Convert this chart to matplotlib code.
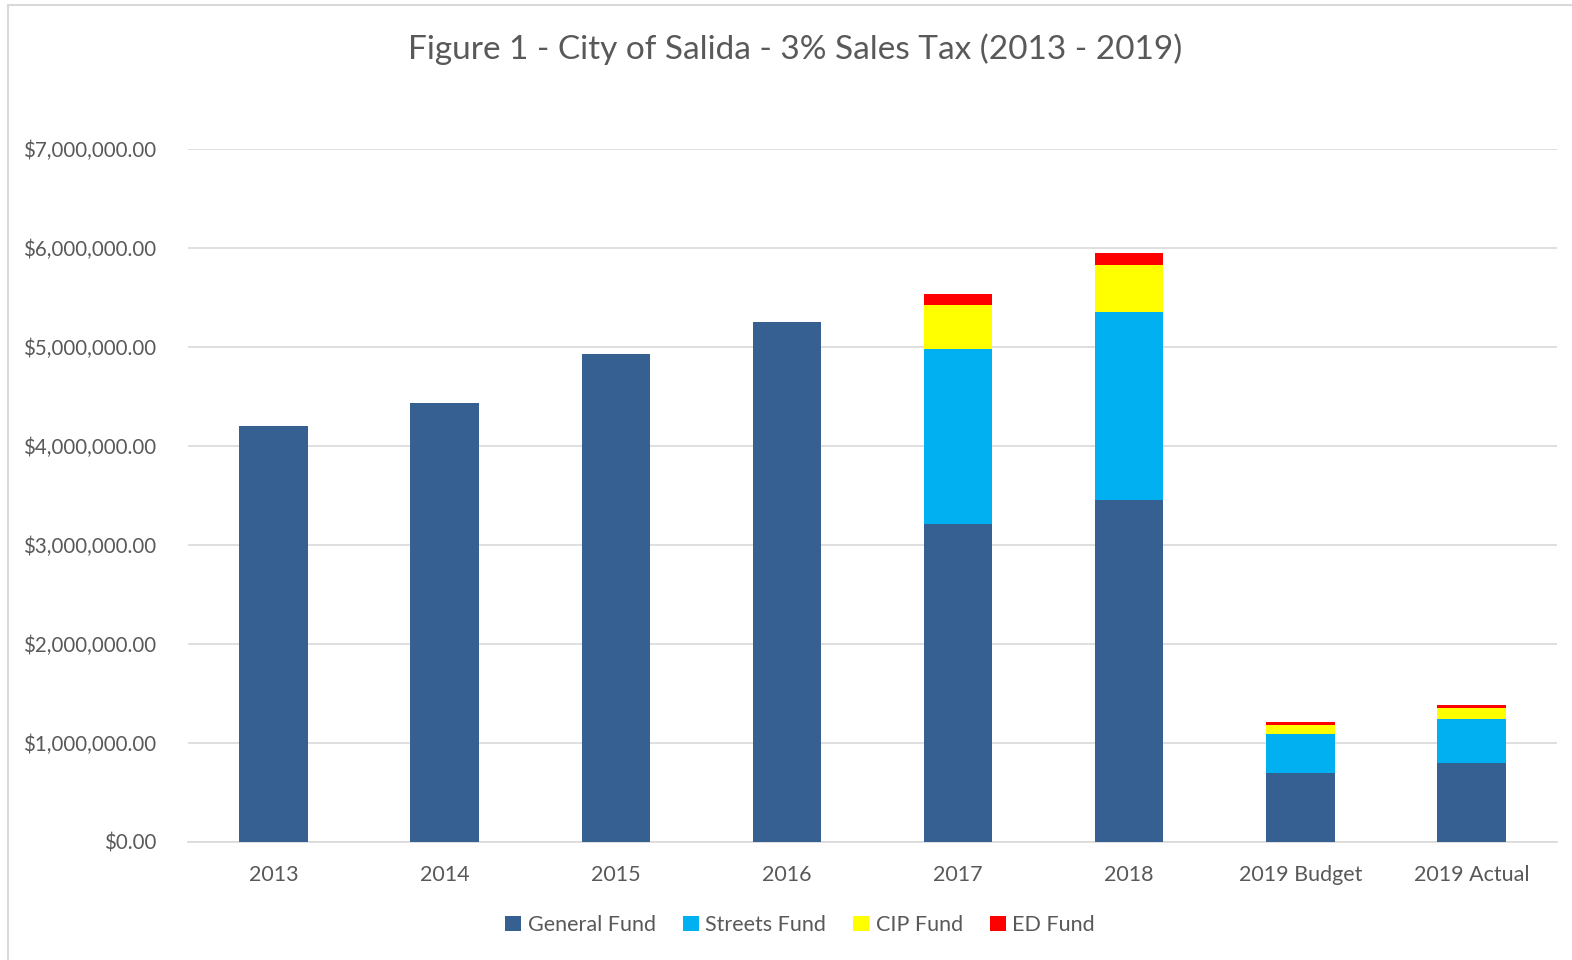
import numpy as np
import matplotlib.pyplot as plt
from matplotlib.patches import Rectangle
from matplotlib.ticker import FuncFormatter

plt.rcParams['font.family'] = ['Lato', 'DejaVu Sans']

categories = ['2013', '2014', '2015', '2016', '2017', '2018', '2019 Budget', '2019 Actual']
general_fund = [4202000, 4437000, 4926000, 5253000, 3209000, 3452000, 700000, 801000]
streets_fund = [0, 0, 0, 0, 1771000, 1899000, 388000, 441000]
cip_fund = [0, 0, 0, 0, 441000, 475000, 97000, 108000]
ed_fund = [0, 0, 0, 0, 117000, 121000, 27000, 34000]

series = [
    ('General Fund', general_fund, '#366092'),
    ('Streets Fund', streets_fund, '#00B0F0'),
    ('CIP Fund', cip_fund, '#FFFF00'),
    ('ED Fund', ed_fund, '#FF0000'),
]

txt = '#595959'

fig = plt.figure(figsize=(15.72, 9.6), dpi=100)
# light chart border
fig.patches.append(Rectangle((8 / 1572, -0.01), 1.02, 1 - 5 / 960 + 0.01,
                             transform=fig.transFigure, fill=False,
                             edgecolor='#D9D9D9', lw=1.5))

ax = fig.add_axes([188 / 1572, 1 - 842 / 960, (1557 - 188) / 1572, (842 - 149) / 960])

x = np.arange(len(categories))
bottom = np.zeros(len(categories))
for name, vals, col in series:
    vals = np.array(vals, dtype=float)
    ax.bar(x, vals, 0.4, bottom=bottom, color=col, label=name, zorder=3)
    bottom += vals

ax.set_xlim(-0.5, len(categories) - 0.5)
ax.set_ylim(0, 7000000)
ax.set_yticks(np.arange(0, 7000001, 1000000))
ax.yaxis.set_major_formatter(FuncFormatter(lambda v, p: '${:,.2f}'.format(v)))
ax.set_xticks(x)
ax.set_xticklabels(categories)

ax.grid(axis='y', color='#D9D9D9', lw=1.2, zorder=0)
for s in ['top', 'right', 'left']:
    ax.spines[s].set_visible(False)
ax.spines['bottom'].set_color('#D9D9D9')
ax.spines['bottom'].set_linewidth(1.2)
ax.tick_params(axis='both', length=0, colors=txt, labelsize=15.5)
ax.tick_params(axis='y', pad=23, labelsize=14.8)
ax.tick_params(axis='x', pad=16.5)

fig.text(0.506, 1 - 49 / 960, 'Figure 1 - City of Salida - 3% Sales Tax (2013 - 2019)',
         ha='center', va='center', fontsize=24, color=txt)

leg = fig.legend(loc='center', bbox_to_anchor=(0.509, 1 - 925 / 960), ncol=4,
                 frameon=False, fontsize=15.5, handlelength=0.75, handleheight=0.75,
                 handletextpad=0.3, columnspacing=1.25)
for t in leg.get_texts():
    t.set_color(txt)

fig.savefig('out.png', dpi=100)
